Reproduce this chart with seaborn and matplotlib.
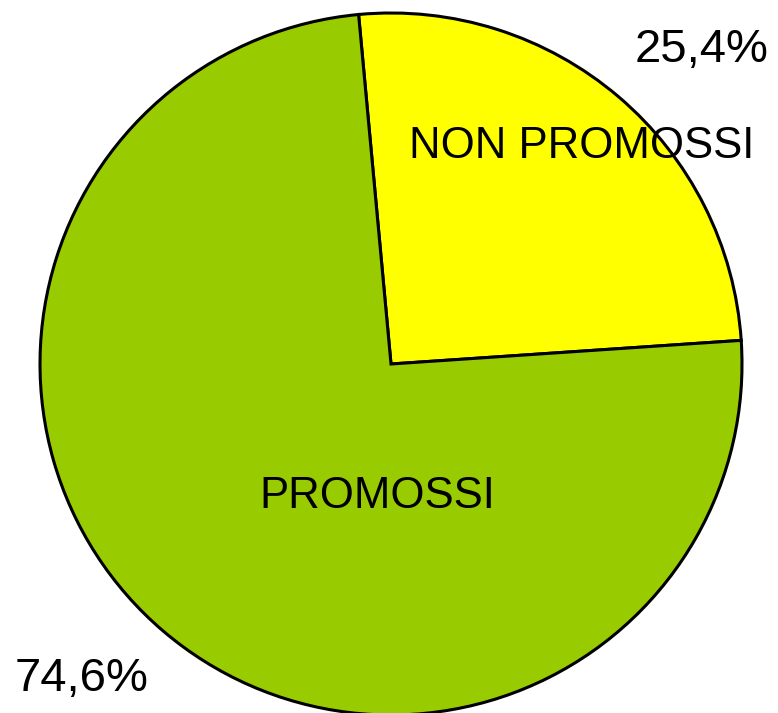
import matplotlib
matplotlib.use("Agg")
import matplotlib.pyplot as plt
import seaborn as sns

# Esiti degli scrutini
categorie = ["NON PROMOSSI", "PROMOSSI"]
percentuali = [25.4, 74.6]
etichette_valori = ["25,4%", "74,6%"]
colori = ["#FFFF00", "#99CC00"]

sns.set_style("white")
plt.rcParams["font.family"] = ["Liberation Sans", "DejaVu Sans"]
plt.rcParams["text.color"] = "black"

W, H = 778, 713
fig = plt.figure(figsize=(W / 100, H / 100), dpi=100)
ax = fig.add_axes([0, 0, 1, 1])

cx, cy, r = 391, H - 364, 351
ax.pie(percentuali, colors=colori, startangle=95.3, counterclock=False,
       center=(cx, cy), radius=r, frame=True,
       wedgeprops=dict(edgecolor="black", linewidth=2.2))
ax.set_xlim(0, W)
ax.set_ylim(0, H)
ax.set_axis_off()

ax.text(582, H - 146, categorie[0], ha="center", va="center",
        fontsize=31.5, color="black")
ax.text(377, H - 497, categorie[1], ha="center", va="center",
        fontsize=31.5, color="black")
ax.text(702, H - 50, etichette_valori[0], ha="center", va="center",
        fontsize=34, color="black")
ax.text(82, H - 679, etichette_valori[1], ha="center", va="center",
        fontsize=34, color="black")

fig.savefig("out.png", dpi=100, facecolor="white")
